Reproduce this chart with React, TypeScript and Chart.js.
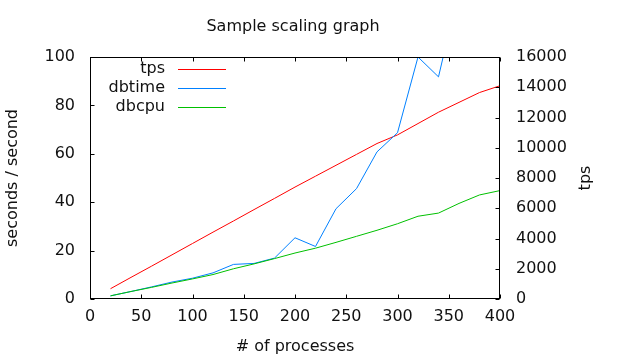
import React, { useEffect, useRef } from "react";
import { Chart, registerables } from "chart.js";

Chart.register(...registerables);

const processes = [20, 40, 60, 80, 100, 120, 140, 160, 180, 200, 220, 240, 260, 280, 300, 320, 340, 360, 380, 400];
const tps = [680, 1430, 2170, 2920, 3670, 4420, 5160, 5910, 6650, 7400, 8120, 8840, 9560, 10280, 10850, 11600, 12350, 13000, 13650, 14100];
const dbtime = [1.3, 3.1, 5.0, 7.0, 8.6, 10.8, 14.3, 14.7, 16.9, 25.3, 21.7, 37.3, 45.6, 60.8, 68.7, 100, 91.8, 128, 150, 170];
const dbcpu = [1.3, 3.1, 4.8, 6.6, 8.3, 10.1, 12.5, 14.5, 16.7, 19.0, 21.0, 23.4, 25.9, 28.4, 31.1, 34.2, 35.5, 39.5, 43.0, 44.8];

const xTicks = { min: 0, max: 400, step: 50 };
const yTicks = { min: 0, max: 100, step: 20 };
const y2Ticks = { min: 0, max: 16000, step: 2000 };

const titleText = "Sample scaling graph";
const xTitle = "# of processes";
const yTitle = "seconds / second";
const y2Title = "tps";

const FONT = "DejaVu Sans";
const FS = 16;
const TEXT = "#111";

const pts = (ys: number[]) => processes.map((x, i) => ({ x, y: ys[i] }));
const plain = (v: any) => String(v);

const gnuplotPlugin = {
  id: "gnuplotFrame",
  afterDraw(chart: any) {
    const { ctx, chartArea: a, scales } = chart;
    ctx.save();
    ctx.strokeStyle = "#000";
    ctx.lineWidth = 1;
    const L = a.left + 0.5, R = a.right - 0.5, T = a.top + 0.5, B = a.bottom - 0.5;
    ctx.strokeRect(L, T, R - L, B - T);
    const tl = 4;
    ctx.beginPath();
    scales.x.ticks.forEach((t: any) => {
      const px = Math.round(scales.x.getPixelForValue(t.value)) + 0.5;
      ctx.moveTo(px, B); ctx.lineTo(px, B - tl);
      ctx.moveTo(px, T); ctx.lineTo(px, T + tl);
    });
    scales.y.ticks.forEach((t: any) => {
      const py = Math.round(scales.y.getPixelForValue(t.value)) + 0.5;
      ctx.moveTo(L, py); ctx.lineTo(L + tl, py);
    });
    scales.y2.ticks.forEach((t: any) => {
      const py = Math.round(scales.y2.getPixelForValue(t.value)) + 0.5;
      ctx.moveTo(R, py); ctx.lineTo(R - tl, py);
    });
    ctx.stroke();

    ctx.fillStyle = TEXT;
    ctx.font = `${FS}px "${FONT}"`;
    ctx.textAlign = "center";
    ctx.textBaseline = "middle";
    ctx.fillText(titleText, (a.left + a.right) / 2 - 2, 27);
    ctx.save();
    ctx.translate(586, (a.top + a.bottom) / 2);
    ctx.rotate(-Math.PI / 2);
    ctx.fillText(y2Title, 0, 0);
    ctx.restore();

    const ds = chart.data.datasets;
    ds.forEach((d: any, i: number) => {
      const y = 69.5 + i * 19;
      ctx.textAlign = "right";
      ctx.fillStyle = TEXT;
      ctx.fillText(d.label, 165, y - 0.5);
      ctx.strokeStyle = d.borderColor;
      ctx.beginPath();
      ctx.moveTo(178, y);
      ctx.lineTo(226, y);
      ctx.stroke();
    });
    ctx.restore();
  },
};

export default function App() {
  const ref = useRef<HTMLCanvasElement | null>(null);
  useEffect(() => {
    if (!ref.current) return;
    const font = { family: FONT, size: FS };
    const chart = new Chart(ref.current, {
      type: "line",
      data: {
        datasets: [
          { label: "tps", data: pts(tps), yAxisID: "y2", borderColor: "#ff0000", borderWidth: 1, pointRadius: 0, fill: false, tension: 0, order: 3 },
          { label: "dbtime", data: pts(dbtime), yAxisID: "y", borderColor: "#0080ff", borderWidth: 1, pointRadius: 0, fill: false, tension: 0, order: 2 },
          { label: "dbcpu", data: pts(dbcpu), yAxisID: "y", borderColor: "#00c000", borderWidth: 1, pointRadius: 0, fill: false, tension: 0, order: 1 },
        ],
      },
      options: {
        responsive: false,
        animation: false,
        layout: { padding: { top: 57, left: 0, right: 0, bottom: 0 } },
        plugins: { legend: { display: false }, title: { display: false }, tooltip: { enabled: false } },
        scales: {
          x: {
            type: "linear",
            min: xTicks.min,
            max: xTicks.max,
            ticks: { stepSize: xTicks.step, padding: 8, font, color: TEXT, maxRotation: 0, callback: plain },
            grid: { display: false, drawTicks: false },
            border: { display: false },
            title: { display: true, text: xTitle, font, color: TEXT, padding: { top: 0, bottom: 4 } },
            afterFit: (s: any) => { s.height = 61; },
          },
          y: {
            type: "linear",
            position: "left",
            min: yTicks.min,
            max: yTicks.max,
            ticks: { stepSize: yTicks.step, padding: 15, font, color: TEXT, callback: plain },
            grid: { display: false, drawTicks: false },
            border: { display: false },
            title: { display: true, text: yTitle, font, color: TEXT, padding: { top: 3, bottom: 0 } },
            afterFit: (s: any) => { s.width = 90; },
          },
          y2: {
            type: "linear",
            position: "right",
            min: y2Ticks.min,
            max: y2Ticks.max,
            ticks: { stepSize: y2Ticks.step, padding: 16, font, color: TEXT, callback: plain },
            grid: { display: false, drawTicks: false, drawOnChartArea: false },
            border: { display: false },
            title: { display: false },
            afterFit: (s: any) => { s.width = 140; },
          },
        },
      },
      plugins: [gnuplotPlugin],
    } as any);
    return () => chart.destroy();
  }, []);
  return (
    <div style={{ position: "absolute", left: 0, top: 0, width: 640, height: 360, background: "#fff" }}>
      <canvas ref={ref} width={640} height={360} style={{ display: "block" }} />
    </div>
  );
}
